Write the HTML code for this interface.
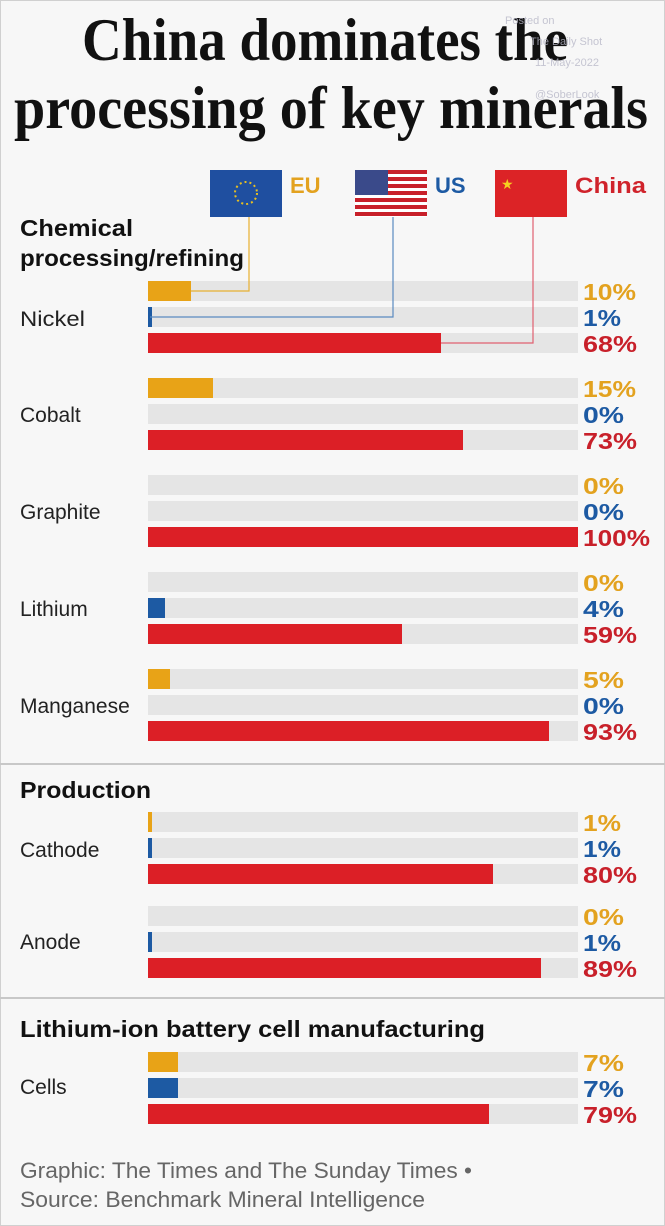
<!DOCTYPE html>
<html><head><meta charset="utf-8"><style>
html,body{margin:0;padding:0;background:#f7f7f7}
svg{display:block}
.v{font-family:"Liberation Sans",sans-serif;font-weight:bold;font-size:23px}
.c{font-family:"Liberation Sans",sans-serif;font-size:21px;fill:#222}
.h{font-family:"Liberation Sans",sans-serif;font-weight:bold;font-size:23px;fill:#111}
</style></head><body>
<svg width="665" height="1226" viewBox="0 0 665 1226" xmlns="http://www.w3.org/2000/svg">
<rect x="0" y="0" width="665" height="1226" fill="#f7f7f7"/>
<rect x="0.5" y="0.5" width="664" height="1225" fill="none" stroke="#d0d0d0"/>
<line x1="0" y1="764" x2="665" y2="764" stroke="#c8c8c8" stroke-width="2"/>
<line x1="0" y1="998" x2="665" y2="998" stroke="#c8c8c8" stroke-width="2"/>
<text x="82" y="60" textLength="486" lengthAdjust="spacingAndGlyphs" font-family="Liberation Serif,serif" font-weight="bold" font-size="60" fill="#111">China dominates the</text>
<text x="14" y="128" textLength="634" lengthAdjust="spacingAndGlyphs" font-family="Liberation Serif,serif" font-weight="bold" font-size="60" fill="#111">processing of key minerals</text>
<g font-family="Liberation Sans,sans-serif" font-size="11" fill="#b8b8c8" opacity="0.8">
<text x="505" y="24">Posted on</text><text x="530" y="45">The Daily Shot</text><text x="535" y="66">11-May-2022</text><text x="535" y="98">@SoberLook</text></g>
<rect x="210" y="170" width="72" height="47" fill="#1f4fa0"/>
<circle cx="246" cy="193" r="11" fill="none" stroke="#e8c020" stroke-width="2" stroke-dasharray="2 3"/>
<rect x="355" y="170" width="72" height="47" fill="#fff"/>
<g fill="#c8202a"><rect x="355" y="170" width="72" height="4"/><rect x="355" y="177" width="72" height="4"/><rect x="355" y="184" width="72" height="4"/><rect x="355" y="191" width="72" height="4"/><rect x="355" y="198" width="72" height="4"/><rect x="355" y="205" width="72" height="4"/><rect x="355" y="212" width="72" height="4"/></g>
<rect x="355" y="170" width="33" height="25" fill="#3a4a8a"/>
<rect x="495" y="170" width="72" height="47" fill="#dc2326"/>
<text x="501" y="189" font-size="14" fill="#f5d020">★</text>
<text x="290" y="193" font-family="Liberation Sans,sans-serif" font-weight="bold" font-size="22" fill="#e3a21f">EU</text>
<text x="435" y="193" font-family="Liberation Sans,sans-serif" font-weight="bold" font-size="22" fill="#1d5aa3">US</text>
<text x="575" y="193" font-family="Liberation Sans,sans-serif" font-weight="bold" font-size="22" fill="#d0232b" textLength="71" lengthAdjust="spacingAndGlyphs">China</text>
<text class="h" x="20" y="236" textLength="113" lengthAdjust="spacingAndGlyphs">Chemical</text>
<text class="h" x="20" y="266" textLength="224" lengthAdjust="spacingAndGlyphs">processing/refining</text>
<text class="h" x="20" y="798" textLength="131" lengthAdjust="spacingAndGlyphs">Production</text>
<text class="h" x="20" y="1037" textLength="465" lengthAdjust="spacingAndGlyphs">Lithium-ion battery cell manufacturing</text>
<g fill="#e5e5e5">
<rect x="148" y="281" width="430" height="20"/><rect x="148" y="307" width="430" height="20"/><rect x="148" y="333" width="430" height="20"/>
<rect x="148" y="378" width="430" height="20"/><rect x="148" y="404" width="430" height="20"/><rect x="148" y="430" width="430" height="20"/>
<rect x="148" y="475" width="430" height="20"/><rect x="148" y="501" width="430" height="20"/><rect x="148" y="527" width="430" height="20"/>
<rect x="148" y="572" width="430" height="20"/><rect x="148" y="598" width="430" height="20"/><rect x="148" y="624" width="430" height="20"/>
<rect x="148" y="669" width="430" height="20"/><rect x="148" y="695" width="430" height="20"/><rect x="148" y="721" width="430" height="20"/>
<rect x="148" y="812" width="430" height="20"/><rect x="148" y="838" width="430" height="20"/><rect x="148" y="864" width="430" height="20"/>
<rect x="148" y="906" width="430" height="20"/><rect x="148" y="932" width="430" height="20"/><rect x="148" y="958" width="430" height="20"/>
<rect x="148" y="1052" width="430" height="20"/><rect x="148" y="1078" width="430" height="20"/><rect x="148" y="1104" width="430" height="20"/>
</g>
<g fill="#e8a317">
<rect x="148" y="281" width="43" height="20"/><rect x="148" y="378" width="65" height="20"/><rect x="148" y="669" width="22" height="20"/>
<rect x="148" y="812" width="4" height="20"/><rect x="148" y="1052" width="30" height="20"/>
</g>
<g fill="#1d5aa3">
<rect x="148" y="307" width="4" height="20"/><rect x="148" y="598" width="17" height="20"/><rect x="148" y="838" width="4" height="20"/><rect x="148" y="932" width="4" height="20"/><rect x="148" y="1078" width="30" height="20"/>
</g>
<g fill="#dc1f26">
<rect x="148" y="333" width="293" height="20"/><rect x="148" y="430" width="315" height="20"/><rect x="148" y="527" width="430" height="20"/>
<rect x="148" y="624" width="254" height="20"/><rect x="148" y="721" width="401" height="20"/><rect x="148" y="864" width="345" height="20"/>
<rect x="148" y="958" width="393" height="20"/><rect x="148" y="1104" width="341" height="20"/>
</g>
<polyline points="249,217 249,291 191,291" fill="none" stroke="#e8b030" stroke-width="1.2"/>
<polyline points="393,217 393,317 150,317" fill="none" stroke="#5a8ac0" stroke-width="1.2"/>
<polyline points="533,217 533,343 441,343" fill="none" stroke="#e06070" stroke-width="1.2"/>
<text class="c" x="20" y="326" textLength="65" lengthAdjust="spacingAndGlyphs">Nickel</text>
<text class="c" x="20" y="422">Cobalt</text>
<text class="c" x="20" y="519">Graphite</text>
<text class="c" x="20" y="616">Lithium</text>
<text class="c" x="20" y="713">Manganese</text>
<text class="c" x="20" y="857">Cathode</text>
<text class="c" x="20" y="949">Anode</text>
<text class="c" x="20" y="1094">Cells</text>
<g class="v" fill="#e3a21f">
<text x="583" y="300" textLength="53" lengthAdjust="spacingAndGlyphs">10%</text><text x="583" y="397" textLength="53" lengthAdjust="spacingAndGlyphs">15%</text><text x="583" y="494" textLength="41" lengthAdjust="spacingAndGlyphs">0%</text><text x="583" y="591" textLength="41" lengthAdjust="spacingAndGlyphs">0%</text><text x="583" y="688" textLength="41" lengthAdjust="spacingAndGlyphs">5%</text><text x="583" y="831" textLength="38" lengthAdjust="spacingAndGlyphs">1%</text><text x="583" y="925" textLength="41" lengthAdjust="spacingAndGlyphs">0%</text><text x="583" y="1071" textLength="41" lengthAdjust="spacingAndGlyphs">7%</text>
</g>
<g class="v" fill="#1d5aa3">
<text x="583" y="326" textLength="38" lengthAdjust="spacingAndGlyphs">1%</text><text x="583" y="423" textLength="41" lengthAdjust="spacingAndGlyphs">0%</text><text x="583" y="520" textLength="41" lengthAdjust="spacingAndGlyphs">0%</text><text x="583" y="617" textLength="41" lengthAdjust="spacingAndGlyphs">4%</text><text x="583" y="714" textLength="41" lengthAdjust="spacingAndGlyphs">0%</text><text x="583" y="857" textLength="38" lengthAdjust="spacingAndGlyphs">1%</text><text x="583" y="951" textLength="38" lengthAdjust="spacingAndGlyphs">1%</text><text x="583" y="1097" textLength="41" lengthAdjust="spacingAndGlyphs">7%</text>
</g>
<g class="v" fill="#c8202a">
<text x="583" y="352" textLength="54" lengthAdjust="spacingAndGlyphs">68%</text><text x="583" y="449" textLength="54" lengthAdjust="spacingAndGlyphs">73%</text><text x="583" y="546" textLength="67" lengthAdjust="spacingAndGlyphs">100%</text><text x="583" y="643" textLength="54" lengthAdjust="spacingAndGlyphs">59%</text><text x="583" y="740" textLength="54" lengthAdjust="spacingAndGlyphs">93%</text><text x="583" y="883" textLength="54" lengthAdjust="spacingAndGlyphs">80%</text><text x="583" y="977" textLength="54" lengthAdjust="spacingAndGlyphs">89%</text><text x="583" y="1123" textLength="54" lengthAdjust="spacingAndGlyphs">79%</text>
</g>
<text x="20" y="1178" font-family="Liberation Sans,sans-serif" font-size="22" fill="#666" textLength="452" lengthAdjust="spacingAndGlyphs">Graphic: The Times and The Sunday Times •</text>
<text x="20" y="1207" font-family="Liberation Sans,sans-serif" font-size="22" fill="#666" textLength="405" lengthAdjust="spacingAndGlyphs">Source: Benchmark Mineral Intelligence</text>
</svg>
</body></html>
